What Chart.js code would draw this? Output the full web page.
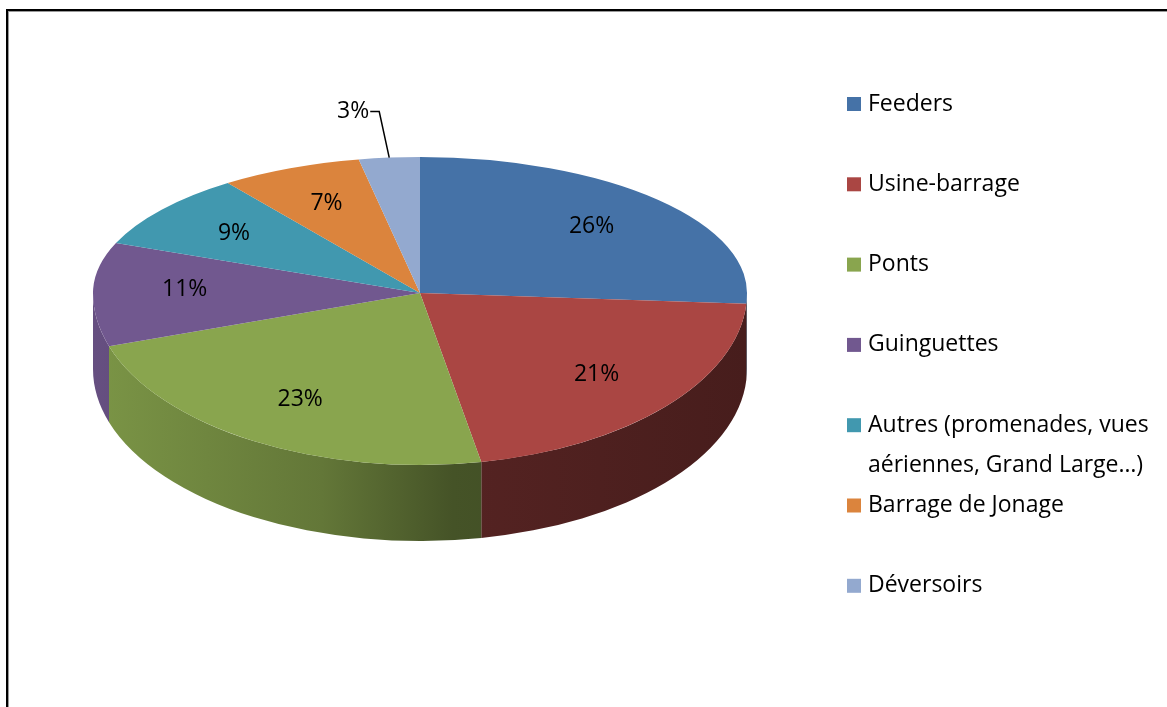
<!DOCTYPE html>
<html>
<head>
<meta charset="utf-8">
<script src="https://cdn.jsdelivr.net/npm/chart.js@4.4.1/dist/chart.umd.min.js"></script>
<style>
  html, body { margin: 0; padding: 0; background: #fff; }
  #wrap { width: 1167px; height: 707px; }
</style>
</head>
<body>
<div id="wrap"><canvas id="pieChart" width="1167" height="707"></canvas></div>
<script>
const categories = [
  "Feeders",
  "Usine-barrage",
  "Ponts",
  "Guinguettes",
  "Autres (promenades, vues aériennes, Grand Large…)",
  "Barrage de Jonage",
  "Déversoirs",
];
const shares = [26, 21, 23, 11, 9, 7, 3];
const colors = ["#4572A7", "#AA4643", "#89A54E", "#71588F", "#4198AF", "#DB843D", "#93A9CF"];

// fake 3D: back half squashed more than the front half (rough perspective)
const APEX_Y = 293;
const BACK_RY = 136;
const FRONT_RY = 172;
const DEPTH = 76;
const FONT = '23px "Open Sans"';

function shade(hex, f) {
  const n = parseInt(hex.slice(1), 16);
  const r = Math.round(((n >> 16) & 255) * f);
  const g = Math.round(((n >> 8) & 255) * f);
  const b = Math.round((n & 255) * f);
  return `rgb(${r}, ${g}, ${b})`;
}

// put circle space (arc x/y/R) onto the tilted screen
function tiltTo(ctx, arc, ry) {
  ctx.translate(arc.x, APEX_Y);
  ctx.scale(1, ry / arc.outerRadius);
  ctx.translate(-arc.x, -arc.y);
}

function screenPoint(arc, angle, f) {
  const s = Math.sin(angle);
  const ry = s < 0 ? BACK_RY : FRONT_RY;
  return {
    x: arc.x + f * arc.outerRadius * Math.cos(angle),
    y: APEX_Y + f * ry * s,
  };
}

const framePlugin = {
  id: "frame",
  beforeDraw(chart) {
    const ctx = chart.ctx;
    ctx.save();
    ctx.fillStyle = "#fff";
    ctx.fillRect(0, 0, chart.width, chart.height);
    ctx.strokeStyle = "#999";
    ctx.lineWidth = 1;
    ctx.strokeRect(8.5, 11.5, chart.width + 20, chart.height + 20);
    ctx.strokeStyle = "#000";
    ctx.lineWidth = 2;
    ctx.strokeRect(7, 10, chart.width + 20, chart.height + 20);
    ctx.restore();
  },
};

const tiltPlugin = {
  id: "tilt",
  beforeDatasetsDraw(chart) {
    const ctx = chart.ctx;
    const meta = chart.getDatasetMeta(0);
    const arcs = meta.data;
    const first = arcs[0];
    const { x, y, outerRadius: R } = first;

    // sides + front half of the top, with the front squash
    ctx.save();
    tiltTo(ctx, first, FRONT_RY);
    const d = DEPTH * R / FRONT_RY;
    arcs.forEach((arc, i) => {
      const a0 = Math.max(arc.startAngle, 0);
      const a1 = Math.min(arc.endAngle, Math.PI);
      if (a0 >= a1) return;
      ctx.beginPath();
      ctx.arc(x, y, R, a0, a1);
      ctx.arc(x, y + d, R, a1, a0, true);
      ctx.closePath();
      const g = ctx.createLinearGradient(x - R, 0, x + R, 0);
      g.addColorStop(0, shade(colors[i], 0.9));
      g.addColorStop(0.35, shade(colors[i], 0.72));
      g.addColorStop(0.55, shade(colors[i], 0.5));
      g.addColorStop(1, shade(colors[i], 0.42));
      ctx.fillStyle = g;
      ctx.fill();
    });
    ctx.beginPath();
    ctx.rect(0, y - 1, chart.width, R + 10);
    ctx.clip();
    meta.controller.draw();
    ctx.restore();

    // back half: the library's own pass, squashed harder
    ctx.save();
    tiltTo(ctx, first, BACK_RY);
    ctx.beginPath();
    ctx.rect(0, y - R - 10, chart.width, R + 10);
    ctx.clip();
  },
  afterDatasetsDraw(chart) {
    const ctx = chart.ctx;
    ctx.restore();
    const arcs = chart.getDatasetMeta(0).data;
    ctx.save();
    ctx.font = FONT;
    ctx.fillStyle = "#000";
    ctx.textBaseline = "middle";
    arcs.forEach((arc, i) => {
      const mid = (arc.startAngle + arc.endAngle) / 2;
      const text = shares[i] + "%";
      if (shares[i] < 5) {
        const e = screenPoint(arc, mid, 1);
        const bx = e.x - 10;
        const by = e.y - 46;
        ctx.strokeStyle = "#000";
        ctx.lineWidth = 1.5;
        ctx.beginPath();
        ctx.moveTo(e.x, e.y);
        ctx.lineTo(bx, by);
        ctx.lineTo(bx - 9, by);
        ctx.stroke();
        ctx.textAlign = "right";
        ctx.fillText(text, bx - 10, by);
      } else {
        const p = screenPoint(arc, mid, 0.72);
        ctx.textAlign = "center";
        ctx.fillText(text, p.x, p.y);
      }
    });
    ctx.restore();
  },
};

const legendPlugin = {
  id: "sideLegend",
  afterDraw(chart) {
    const ctx = chart.ctx;
    ctx.save();
    ctx.font = FONT;
    ctx.textBaseline = "middle";
    ctx.textAlign = "left";
    categories.forEach((name, i) => {
      const cy = 104 + i * 80.3;
      ctx.fillStyle = colors[i];
      ctx.fillRect(847, cy - 7, 14, 14);
      ctx.fillStyle = "#000";
      // wrap long names
      const words = name.split(" ");
      const lines = [];
      let line = "";
      words.forEach((w) => {
        const test = line ? line + " " + w : w;
        if (ctx.measureText(test).width > 292 && line) {
          lines.push(line);
          line = w;
        } else {
          line = test;
        }
      });
      lines.push(line);
      lines.forEach((l, j) => ctx.fillText(l, 868, cy + j * 40));
    });
    ctx.restore();
  },
};

const pieChart = new Chart(document.getElementById("pieChart"), {
  type: "pie",
  data: {
    labels: categories,
    datasets: [
      {
        data: shares,
        backgroundColor: colors,
        borderWidth: 0,
        hoverOffset: 0,
      },
    ],
  },
  options: {
    responsive: false,
    animation: false,
    events: [],
    layout: {
      padding: { left: 93, right: 420, top: 26, bottom: 27 },
    },
    plugins: {
      legend: { display: false },
      tooltip: { enabled: false },
    },
  },
  plugins: [framePlugin, tiltPlugin, legendPlugin],
});
</script>
</body>
</html>
